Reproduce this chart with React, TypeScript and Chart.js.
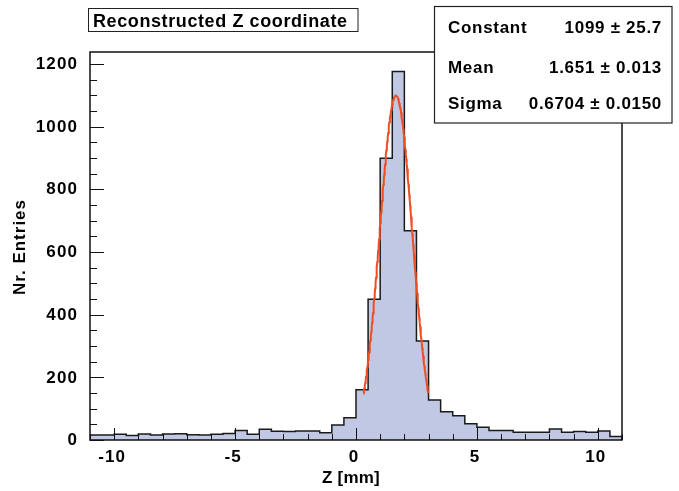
import React, { useEffect, useRef } from "react";
import { Chart, registerables } from "chart.js";

Chart.register(...registerables);

// ---- data ----
const binLowEdges = [
  -11, -10.5, -10, -9.5, -9, -8.5, -8, -7.5, -7, -6.5, -6, -5.5, -5, -4.5, -4, -3.5, -3, -2.5, -2, -1.5, -1, -0.5,
  0, 0.5, 1, 1.5, 2, 2.5, 3, 3.5, 4, 4.5, 5, 5.5, 6, 6.5, 7, 7.5, 8, 8.5, 9, 9.5, 10, 10.5,
];
const binWidth = 0.5;
const binCounts = [
  16, 16, 18, 14, 19, 16, 19, 20, 17, 16, 18, 21, 30, 18, 34, 28, 27, 29, 29, 23, 48, 71,
  160, 449, 899, 1176, 668, 316, 128, 90, 77, 52, 41, 30, 30, 25, 25, 25, 35, 25, 27, 25, 29, 11,
];
const xTickValues = [-10, -5, 0, 5, 10];
const yTickValues = [0, 200, 400, 600, 800, 1000, 1200];
const fitConstant = 1099;
const fitMean = 1.651;
const fitSigma = 0.6704;
const fitRange = [0.31, 2.99];
const statsLabels = ["Constant", "Mean", "Sigma"];
const statsValues = ["1099 \u00b1 25.7", "1.651 \u00b1 0.013", "0.6704 \u00b1 0.0150"];
const titleText = "Reconstructed Z coordinate";
const xTitle = "Z [mm]";
const yTitle = "Nr. Entries";

const X_MIN = -11;
const X_MAX = 11;
const Y_MAX = 1238;

const FONT = "'Liberation Sans', Arial, sans-serif";

function setFont(ctx: CanvasRenderingContext2D, size: number, spacing: number) {
  ctx.font = `bold ${size}px ${FONT}`;
  try {
    (ctx as any).letterSpacing = `${spacing}px`;
  } catch (e) {}
}

const decorPlugin = {
  id: "rootDecor",
  afterDatasetsDraw(chart: any) {
    const ctx: CanvasRenderingContext2D = chart.ctx;
    const area = chart.chartArea;
    const xs = chart.scales.x;
    const ys = chart.scales.y;
    ctx.save();
    // frame
    ctx.strokeStyle = "#111";
    ctx.lineWidth = 1.5;
    ctx.strokeRect(area.left, area.top, area.right - area.left, area.bottom - area.top);

    // x ticks (inward)
    ctx.lineWidth = 1;
    ctx.beginPath();
    for (let v = -11; v <= 11; v += 1) {
      const px = Math.round(xs.getPixelForValue(v)) + 0.5;
      const major = v % 5 === 0;
      ctx.moveTo(px, area.bottom);
      ctx.lineTo(px, area.bottom - (major ? 12 : 6));
    }
    // y ticks (inward)
    for (let v = 0; v <= Y_MAX; v += 50) {
      const py = Math.round(ys.getPixelForValue(v)) + 0.5;
      const major = v % 200 === 0;
      ctx.moveTo(area.left, py);
      ctx.lineTo(area.left + (major ? 14 : 7), py);
    }
    ctx.stroke();

    ctx.fillStyle = "#000";
    // y tick labels
    setFont(ctx, 17, 1.1);
    ctx.textAlign = "right";
    ctx.textBaseline = "middle";
    yTickValues.forEach((v) => {
      ctx.fillText(String(v), 78, ys.getPixelForValue(v) + 0.5);
    });
    // x tick labels
    ctx.textAlign = "center";
    ctx.textBaseline = "alphabetic";
    xTickValues.forEach((v) => {
      ctx.fillText(String(v), xs.getPixelForValue(v) - 2, 462);
    });

    // x title
    setFont(ctx, 17, 0.2);
    ctx.textAlign = "center";
    ctx.fillText(xTitle, 351, 482.5);

    // y title
    ctx.save();
    setFont(ctx, 17, 1);
    ctx.translate(25, 247);
    ctx.rotate(-Math.PI / 2);
    ctx.textAlign = "center";
    ctx.textBaseline = "alphabetic";
    ctx.fillText(yTitle, 0, 0);
    ctx.restore();

    // title box
    ctx.fillStyle = "#fff";
    ctx.fillRect(88.5, 8.5, 269.5, 23);
    ctx.strokeStyle = "#222";
    ctx.lineWidth = 1;
    ctx.strokeRect(88.5, 8.5, 269.5, 23);
    ctx.fillStyle = "#000";
    setFont(ctx, 18, 0.6);
    ctx.textAlign = "left";
    ctx.fillText(titleText, 93, 27);

    // stats box
    ctx.fillStyle = "#fff";
    ctx.fillRect(434.5, 6.5, 237.5, 116.5);
    ctx.strokeStyle = "#222";
    ctx.lineWidth = 1.2;
    ctx.strokeRect(434.5, 6.5, 237.5, 116.5);
    ctx.fillStyle = "#000";
    const baselines = [32.5, 72.5, 109];
    setFont(ctx, 17, 0.7);
    statsLabels.forEach((t, i) => {
      ctx.textAlign = "left";
      ctx.fillText(t, 448, baselines[i]);
    });
    statsValues.forEach((t, i) => {
      ctx.textAlign = "right";
      ctx.fillText(t, 662, baselines[i]);
    });
    ctx.restore();
  },
};

export default function App() {
  const canvasRef = useRef<HTMLCanvasElement | null>(null);

  useEffect(() => {
    const canvas = canvasRef.current;
    if (!canvas) return;

    const n = binCounts.length;
    const histPoints = [{ x: binLowEdges[0], y: 0 }];
    binLowEdges.forEach((x, i) => histPoints.push({ x, y: binCounts[i] }));
    histPoints.push({ x: binLowEdges[n - 1] + binWidth, y: binCounts[n - 1] });
    histPoints.push({ x: binLowEdges[n - 1] + binWidth, y: 0 });

    const fitPoints: { x: number; y: number }[] = [];
    const steps = 150;
    for (let i = 0; i <= steps; i++) {
      const x = fitRange[0] + ((fitRange[1] - fitRange[0]) * i) / steps;
      const y = fitConstant * Math.exp(-0.5 * Math.pow((x - fitMean) / fitSigma, 2));
      fitPoints.push({ x, y });
    }

    const chart = new Chart(canvas, {
      type: "line",
      data: {
        datasets: [
          {
            data: histPoints,
            stepped: "before",
            borderColor: "#1a1a1a",
            borderWidth: 1.5,
            backgroundColor: "rgb(193,200,228)",
            fill: "origin",
            pointRadius: 0,
            order: 2,
          },
          {
            data: fitPoints,
            borderColor: "rgb(238,78,36)",
            borderWidth: 2,
            fill: false,
            pointRadius: 0,
            tension: 0,
            order: 1,
          },
        ],
      } as any,
      options: {
        responsive: false,
        animation: false,
        events: [],
        layout: { padding: { left: 90, top: 52, right: 57, bottom: 51 } },
        plugins: { legend: { display: false }, tooltip: { enabled: false } },
        scales: {
          x: { type: "linear", min: X_MIN, max: X_MAX, display: false },
          y: { type: "linear", min: 0, max: Y_MAX, display: false },
        },
      } as any,
      plugins: [decorPlugin],
    });
    return () => chart.destroy();
  }, []);

  return (
    <div style={{ position: "absolute", left: 0, top: 0, width: 679, height: 491, background: "#fff" }}>
      <canvas ref={canvasRef} width={679} height={491} style={{ display: "block" }} />
    </div>
  );
}
